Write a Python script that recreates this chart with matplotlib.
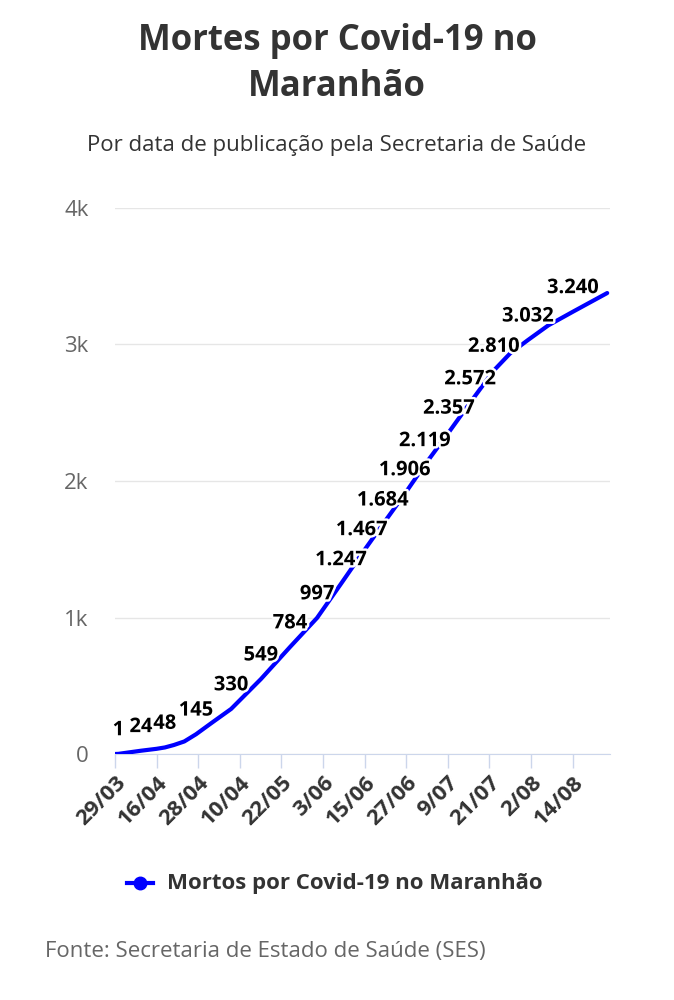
import matplotlib.pyplot as plt
import matplotlib.patheffects as pe

plt.rcParams['font.family'] = ['Open Sans', 'DejaVu Sans']

# category positions (one per publication day) and values
point_idx = [0, 1, 7.5, 12, 14.4, 17, 20, 23.4, 28, 33.5, 42.1, 50.5, 58.3,
             65.2, 71.2, 77.3, 83.6, 89.4, 96.3, 102.4, 109.3, 114, 119.1,
             125, 132.1, 142]
point_vals = [0, 1, 24, 38, 48, 66, 92, 145, 230, 330, 549, 784, 997,
              1247, 1467, 1684, 1906, 2119, 2357, 2572, 2810, 2935, 3032,
              3140, 3240, 3377]

label_idx = [1, 7.5, 14.4, 23.4, 33.5, 42.1, 50.5, 58.3, 65.2, 71.2, 77.3,
             83.6, 89.4, 96.3, 102.4, 109.3, 119.1, 132.1]
label_vals = [1, 24, 48, 145, 330, 549, 784, 997, 1247, 1467, 1684,
              1906, 2119, 2357, 2572, 2810, 3032, 3240]

tick_idx = [0, 12, 24, 36, 48, 60, 72, 84, 96, 108, 120, 132]
tick_labels = ['29/03', '16/04', '28/04', '10/04', '22/05', '3/06',
               '15/06', '27/06', '9/07', '21/07', '2/08', '14/08']

y_ticks = [0, 1000, 2000, 3000, 4000]
y_labels = ['0', '1k', '2k', '3k', '4k']

fig = plt.figure(figsize=(6.74, 10), dpi=100)
ax = fig.add_axes([0.1706, 0.246, 0.7344, 0.546])

ax.plot(point_idx, point_vals, color='#0000ff', lw=3, solid_capstyle='round',
        solid_joinstyle='round', zorder=3)

for i, v in zip(label_idx, label_vals):
    txt = '{:,}'.format(v).replace(',', '.')
    ax.annotate(txt, (i, v), xytext=(0, 17), textcoords='offset points',
                ha='center', va='center', fontsize=14.5, fontweight='bold',
                color='black', zorder=4,
                path_effects=[pe.withStroke(linewidth=3.5, foreground='white')])

ax.set_xlim(0, 142.8)
ax.set_ylim(0, 4000)
ax.set_yticks(y_ticks)
ax.set_yticklabels(y_labels)
ax.set_xticks(tick_idx)
ax.set_xticklabels(tick_labels, rotation=45, ha='right', rotation_mode='anchor',
                   fontsize=16, fontweight='bold', color='#333333')
ax.tick_params(axis='y', length=0, labelsize=16, labelcolor='#666666', pad=19)
ax.tick_params(axis='x', length=10, color='#ccd6eb', width=1, pad=3)
ax.grid(axis='y', color='#e6e6e6', lw=1)
ax.set_axisbelow(True)
for s in ['top', 'right', 'left']:
    ax.spines[s].set_visible(False)
ax.spines['bottom'].set_color('#ccd6eb')
ax.spines['bottom'].set_zorder(1)

fig.text(0.5, 0.936, 'Mortes por Covid-19 no\nMaranhão', ha='center', va='center',
         fontsize=25, fontweight='bold', color='#333333', linespacing=1.38)
fig.text(0.5, 0.855, 'Por data de publicação pela Secretaria de Saúde', ha='center',
         va='center', fontsize=16, color='#333333')

# legend
ly = 1 - 883 / 1000
fig.lines.append(plt.Line2D([127 / 674, 153 / 674], [ly, ly],
                            transform=fig.transFigure, color='#0000ff', lw=3))
fig.lines.append(plt.Line2D([140 / 674], [ly], transform=fig.transFigure,
                            color='#0000ff', marker='o', markersize=9, lw=0))
fig.text(167 / 674, ly, 'Mortos por Covid-19 no Maranhão', ha='left',
         va='center', fontsize=16, fontweight='bold', color='#333333')

fig.text(45 / 674, 1 - 952 / 1000, 'Fonte: Secretaria de Estado de Saúde (SES)',
         ha='left', va='center', fontsize=16, color='#666666')

fig.savefig('out.png', dpi=100, facecolor='white')
